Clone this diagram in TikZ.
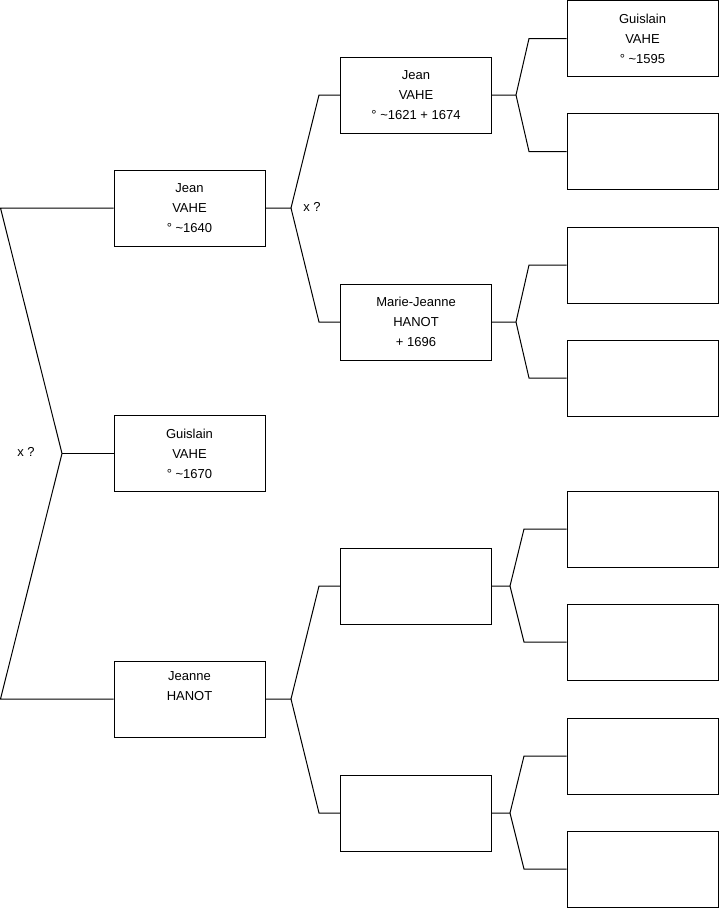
\documentclass[tikz,border=0pt]{standalone}
\usepackage{fontspec}
\setmainfont{Liberation Sans}
\begin{document}
\begin{tikzpicture}[x=1pt,y=-1pt,
  person/.style={draw=black,line width=1pt,minimum width=151pt,minimum height=76pt,inner sep=0pt,align=center,font=\fontsize{13}{20}\selectfont},
  link/.style={draw=black,line width=1pt},
  lbl/.style={font=\fontsize{13}{15}\selectfont,inner sep=0pt}]
\useasboundingbox (0,0) rectangle (719,908);
% column 1
\node[person] (jean1) at (189.5,208) {Jean\\VAHE\\° \textasciitilde1640};
\node[person] (guis) at (189.5,453.5) {Guislain\\VAHE\\° \textasciitilde1670};
\node[person] (jeanne) at (189.5,699) {Jeanne\\HANOT\\\strut};
% column 2
\node[person] (jean2) at (416,95) {Jean\\VAHE\\° \textasciitilde1621 + 1674};
\node[person] (marie) at (416,322) {Marie-Jeanne\\HANOT\\+ 1696};
\node[person] (bc) at (416,586) {};
\node[person] (bd) at (416,813) {};
% column 3
\node[person] (g3a) at (642.5,38.5) {Guislain\\VAHE\\° \textasciitilde1595};
\node[person] (g3b) at (642.5,151.5) {};
\node[person] (g3c) at (642.5,265) {};
\node[person] (g3d) at (642.5,378) {};
\node[person] (g3e) at (642.5,529) {};
\node[person] (g3f) at (642.5,642) {};
\node[person] (g3g) at (642.5,756) {};
\node[person] (g3h) at (642.5,869) {};
% coordinates
\coordinate (l1) at (0.5,208);
\coordinate (lv) at (62,453.5);
\coordinate (l2) at (0.5,699);
\coordinate (m1) at (291,208);
\coordinate (m1a) at (319,95);
\coordinate (m1b) at (319,322);
\coordinate (m2) at (291,699);
\coordinate (m2a) at (319,586);
\coordinate (m2b) at (319,813);
\coordinate (r1) at (516,95);
\coordinate (r1a) at (529,38.5);
\coordinate (r1b) at (529,151.5);
\coordinate (r2) at (516,322);
\coordinate (r2a) at (529,265);
\coordinate (r2b) at (529,378);
\coordinate (r3) at (510,586);
\coordinate (r3a) at (524,529);
\coordinate (r3b) at (524,642);
\coordinate (r4) at (510,813);
\coordinate (r4a) at (524,756);
\coordinate (r4b) at (524,869);
% connectors
\draw[link] (jean1.west) -- (l1) -- (lv) -- (l2) -- (jeanne.west);
\draw[link] (lv) -- (guis.west);
\draw[link] (jean1.east) -- (m1) -- (m1a) -- (jean2.west);
\draw[link] (m1) -- (m1b) -- (marie.west);
\draw[link] (jeanne.east) -- (m2) -- (m2a) -- (bc.west);
\draw[link] (m2) -- (m2b) -- (bd.west);
\draw[link] (jean2.east) -- (r1) -- (r1a) -- (g3a.west);
\draw[link] (r1) -- (r1b) -- (g3b.west);
\draw[link] (marie.east) -- (r2) -- (r2a) -- (g3c.west);
\draw[link] (r2) -- (r2b) -- (g3d.west);
\draw[link] (bc.east) -- (r3) -- (r3a) -- (g3e.west);
\draw[link] (r3) -- (r3b) -- (g3f.west);
\draw[link] (bd.east) -- (r4) -- (r4a) -- (g3g.west);
\draw[link] (r4) -- (r4b) -- (g3h.west);
% labels
\node[lbl] (x1) at (26,451.5) {x ?};
\node[lbl] (x2) at (312,207) {x ?};
\end{tikzpicture}
\end{document}
